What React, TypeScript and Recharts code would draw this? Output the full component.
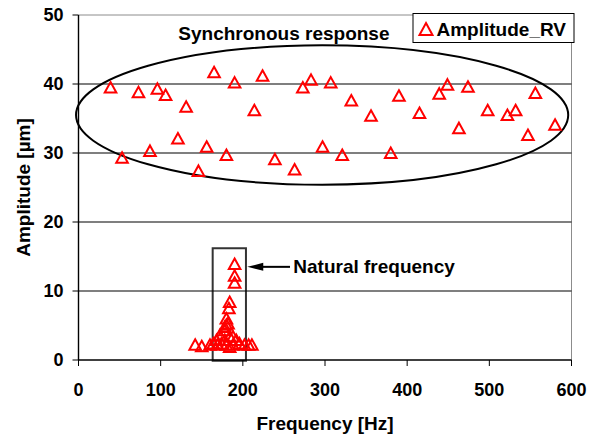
import {
  ScatterChart,
  Scatter,
  XAxis,
  YAxis,
  ReferenceLine,
  ReferenceArea,
  ReferenceDot,
} from 'recharts';

const FONT = '"Liberation Sans", Arial, Helvetica, sans-serif';
const RED = '#ff0000';

// synchronous response points (upper band)
const syncFreq = [39, 53, 73, 87, 96, 106, 121, 131, 146, 156, 165, 180, 190, 214, 224, 239, 263, 273, 283, 297, 307, 321, 332, 356, 380, 390, 415, 439, 449, 463, 474, 498, 522, 532, 547, 556, 580];
const syncAmp = [39.5, 29.3, 38.8, 30.3, 39.3, 38.4, 32.1, 36.7, 27.4, 30.9, 41.7, 29.7, 40.2, 36.2, 41.2, 29.1, 27.6, 39.5, 40.6, 30.9, 40.2, 29.7, 37.6, 35.4, 30.0, 38.3, 35.8, 38.6, 39.9, 33.6, 39.6, 36.2, 35.5, 36.2, 32.6, 38.7, 34.1];

// natural frequency cluster
const natFreq = [190, 190, 190, 184, 183, 180, 180, 182, 178, 178, 172, 184, 188, 178, 192, 168, 196, 174, 164, 184, 188, 180, 202, 142, 150, 160, 169, 207, 211];
const natAmp = [13.9, 12.2, 11.2, 8.4, 7.5, 6.0, 5.1, 5.3, 4.8, 4.3, 3.6, 3.4, 3.4, 2.9, 2.9, 2.9, 2.4, 2.4, 2.4, 1.9, 2.2, 2.2, 2.2, 2.2, 2.0, 2.2, 2.2, 2.2, 2.2];

const xTicks = [0, 100, 200, 300, 400, 500, 600];
const yTicks = [0, 10, 20, 30, 40, 50];
const gridValues = [10, 20, 30, 40];

const points = [
  ...syncFreq.map((f, i) => ({ f, a: syncAmp[i] })),
  ...natFreq.map((f, i) => ({ f, a: natAmp[i] })),
];

const Tri = (props: any) => {
  const { cx, cy } = props;
  if (cx == null || cy == null) return null;
  return (
    <polygon
      points={`${cx},${cy - 5.5} ${cx + 5.8},${cy + 5} ${cx - 5.8},${cy + 5}`}
      fill="none"
      stroke={RED}
      strokeWidth={2}
    />
  );
};

const EllipseShape = (props: any) => {
  const { x, y, width, height } = props;
  return (
    <ellipse
      cx={x + width / 2}
      cy={y + height / 2}
      rx={width / 2}
      ry={height / 2}
      fill="none"
      stroke="#000"
      strokeWidth={2}
    />
  );
};

const ArrowShape = (props: any) => {
  const { x1, y1, x2 } = props;
  return (
    <g>
      <line x1={x1 + 12} y1={y1} x2={x2} y2={y1} stroke="#000" strokeWidth={2} />
      <polygon points={`${x1},${y1} ${x1 + 16},${y1 - 4} ${x1 + 16},${y1 + 4}`} fill="#000" />
    </g>
  );
};

const tickStyle = { fontFamily: FONT, fontSize: 18, fontWeight: 'bold' as const, fill: '#000' };
const textStyle = { fontFamily: FONT, fontSize: 19, fontWeight: 'bold' as const, fill: '#000' };

const makeText = (value: string, anchor: 'start' | 'middle') => (props: any) => (
  <text x={props.cx} y={props.cy} textAnchor={anchor} {...textStyle}>
    {value}
  </text>
);

const YTitle = (props: any) => {
  const vb = props.viewBox || {};
  const cx = vb.x + 5;
  const cy = vb.y + vb.height / 2;
  return (
    <text
      x={cx}
      y={cy}
      transform={`rotate(-90, ${cx}, ${cy})`}
      textAnchor="middle"
      dominantBaseline="central"
      {...textStyle}
    >
      Amplitude [µm]
    </text>
  );
};

const XTitle = (props: any) => {
  const vb = props.viewBox || {};
  return (
    <text x={vb.x + vb.width / 2} y={430} textAnchor="middle" {...textStyle}>
      Frequency [Hz]
    </text>
  );
};

export default function App() {
  return (
    <div style={{ position: 'absolute', left: 0, top: 0, width: 592, height: 438, background: '#fff' }}>
      <ScatterChart width={592} height={438} margin={{ top: 15, right: 20.5, bottom: 0, left: 18.5 }}>
        <ReferenceLine y={50} stroke="#8c8c8c" strokeWidth={1} />
        <ReferenceLine x={600} stroke="#8c8c8c" strokeWidth={1} />
        {gridValues.map((v) => (
          <ReferenceLine key={v} y={v} stroke="#000" strokeWidth={1.2} />
        ))}
        <XAxis
          type="number"
          dataKey="f"
          domain={[0, 600]}
          ticks={xTicks}
          interval={0}
          height={78}
          tickSize={6}
          tickMargin={17}
          axisLine={{ stroke: '#000', strokeWidth: 1.4 }}
          tickLine={{ stroke: '#000' }}
          tick={tickStyle}
          label={{ content: XTitle }}
        />
        <YAxis
          type="number"
          dataKey="a"
          domain={[0, 50]}
          ticks={yTicks}
          interval={0}
          width={60}
          tickSize={6}
          tickMargin={9}
          axisLine={{ stroke: '#000', strokeWidth: 1.4 }}
          tickLine={{ stroke: '#000' }}
          tick={tickStyle}
          label={{ content: YTitle }}
        />
        <ReferenceArea
          x1={-3}
          x2={596}
          y1={25.4}
          y2={45.6}
          ifOverflow="visible"
          shape={EllipseShape}
        />
        <ReferenceArea
          x1={163.3}
          x2={203.8}
          y1={-0.1}
          y2={16.2}
          ifOverflow="visible"
          fill="none"
          fillOpacity={0}
          stroke="#333"
          strokeWidth={2}
        />
        <ReferenceLine
          segment={[{ x: 205.4, y: 13.5 }, { x: 257.4, y: 13.5 }]}
          ifOverflow="visible"
          shape={ArrowShape}
        />
        <ReferenceDot x={261.4} y={12.55} r={0} ifOverflow="visible" shape={makeText('Natural frequency', 'start')} />
        <ReferenceDot x={250} y={46.4} r={0} ifOverflow="visible" shape={makeText('Synchronous response', 'middle')} />
        <Scatter data={points} shape={Tri} isAnimationActive={false} />
      </ScatterChart>
      <svg width={164} height={32} style={{ position: 'absolute', left: 412, top: 12 }}>
        <rect x={1} y={1.5} width={161} height={29} fill="#fff" stroke="#000" strokeWidth={1} />
        <polygon points="14,11 20.5,23 7.5,23" fill="none" stroke={RED} strokeWidth={2} />
        <text x={24.5} y={23.5} {...textStyle}>
          Amplitude_RV
        </text>
      </svg>
    </div>
  );
}
